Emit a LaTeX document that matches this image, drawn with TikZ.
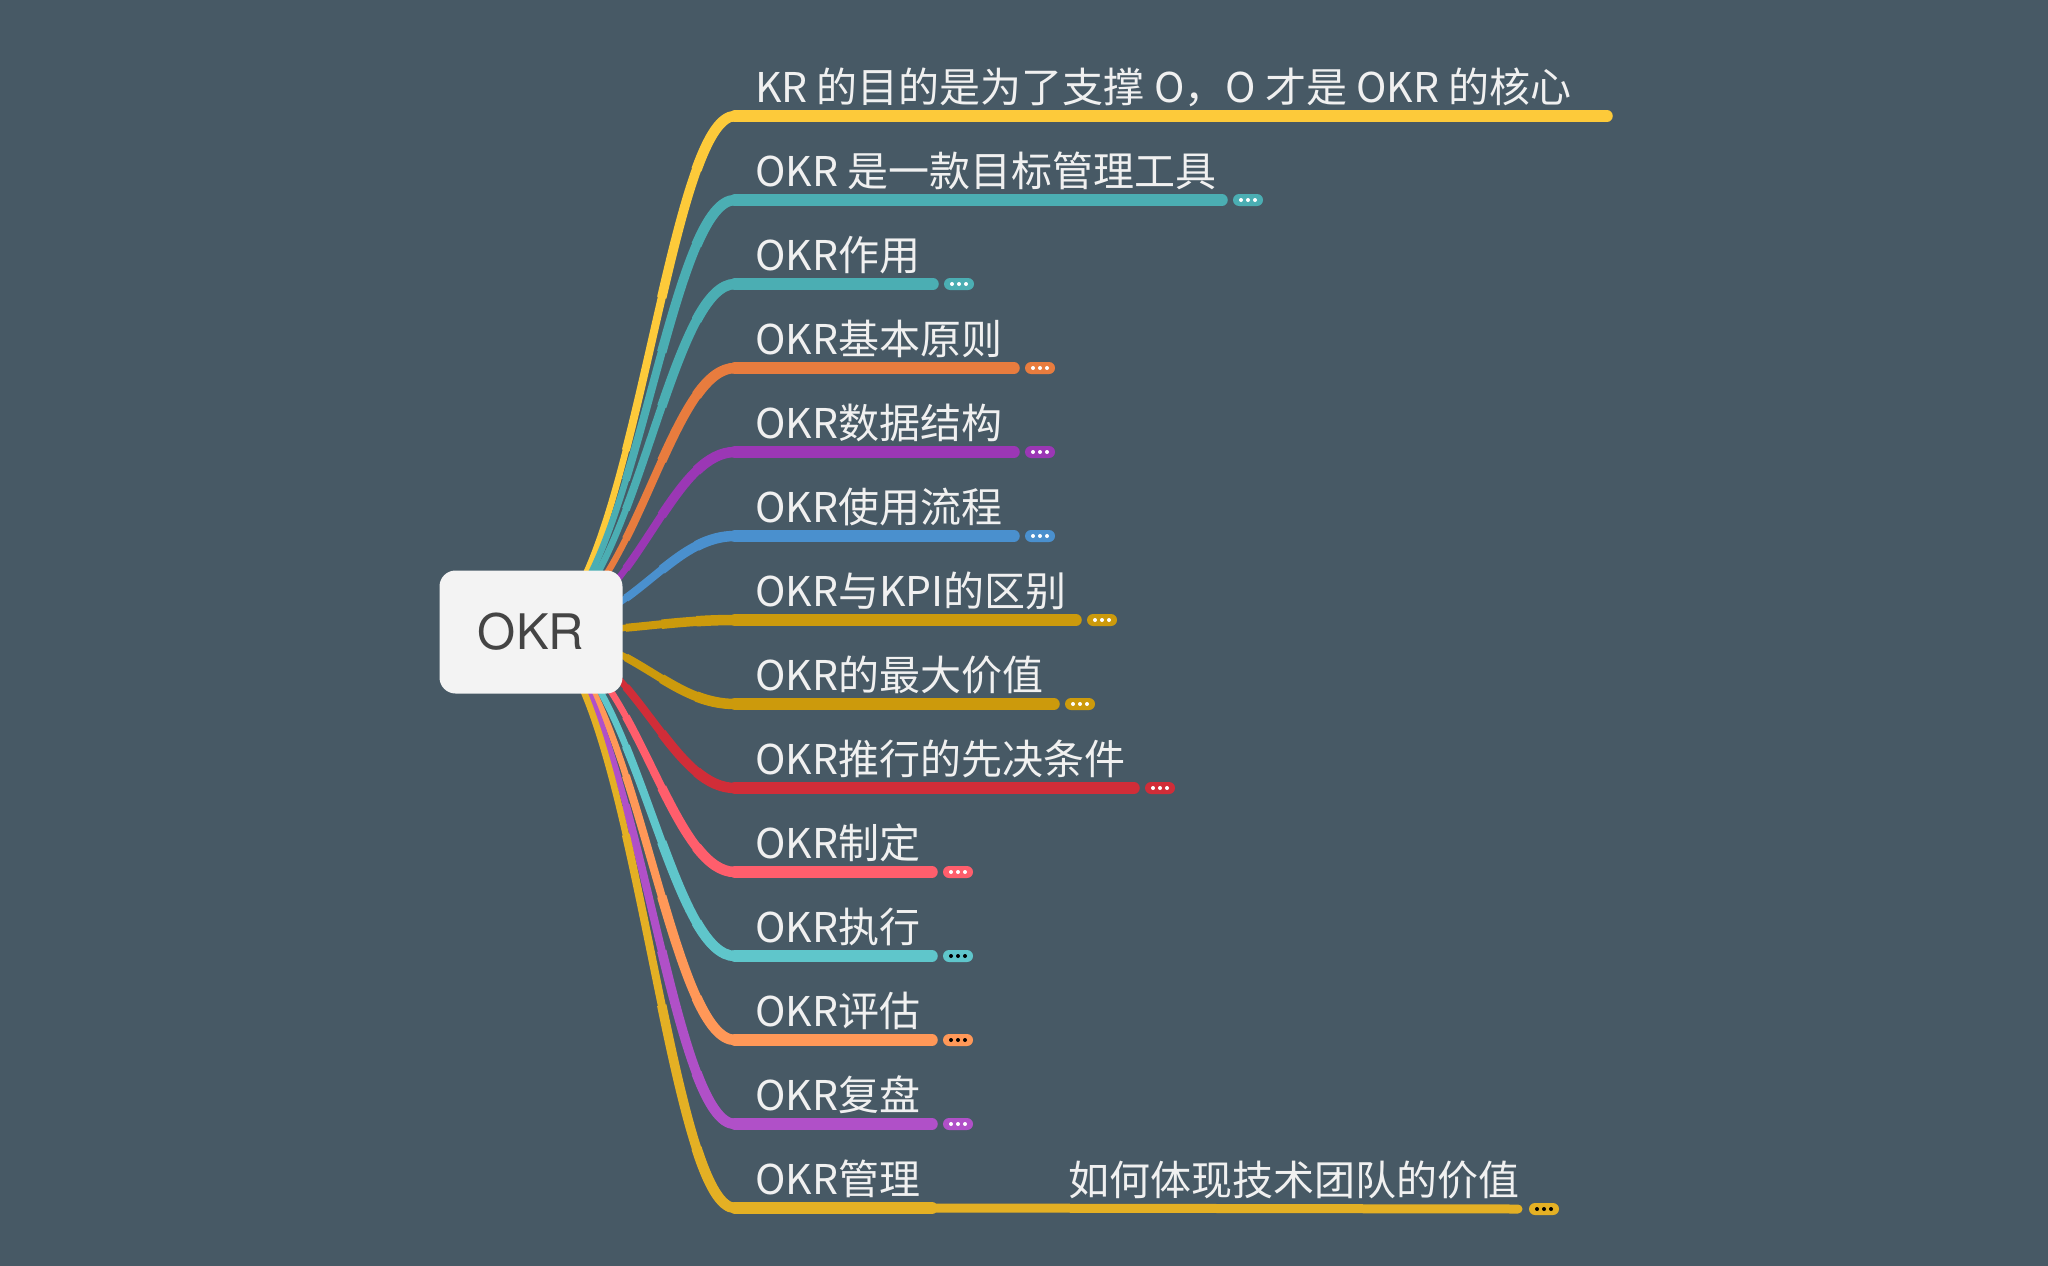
\documentclass[tikz,border=0pt]{standalone}
\usepackage{fontspec}
\setmainfont{Noto Sans CJK SC}
\newfontfamily\rootfont{TeX Gyre Heros}
\usetikzlibrary{calc}

\definecolor{bgcol}{HTML}{475965}
\definecolor{boxcol}{HTML}{F3F3F3}
\definecolor{rootcol}{HTML}{444444}
\definecolor{txtcol}{HTML}{F0F0F0}
\definecolor{cyel}{HTML}{FDCA3A}
\definecolor{cteal}{HTML}{4BAEB3}
\definecolor{corange}{HTML}{E87C3E}
\definecolor{cpurple}{HTML}{9B37B5}
\definecolor{cblue}{HTML}{4A90CE}
\definecolor{cgold}{HTML}{CC9A0C}
\definecolor{cred}{HTML}{D12D38}
\definecolor{cpink}{HTML}{FF5E6C}
\definecolor{cturq}{HTML}{5FC6CB}
\definecolor{clorange}{HTML}{FF9858}
\definecolor{cviolet}{HTML}{B050C8}
\definecolor{cgold2}{HTML}{E4B024}

\tikzset{
  topic/.style={anchor=base west, inner sep=0pt, text=txtcol, font=\fontsize{41}{41}\selectfont},
  pill/.style={rounded corners=6pt, minimum width=30pt, minimum height=12pt, inner sep=0pt},
  rootbox/.style={fill=boxcol, rounded corners=16pt, minimum width=183pt, minimum height=123pt,
    inner sep=0pt, text=rootcol, font=\rootfont\fontsize{49}{49}\selectfont},
}

\begin{document}
\begin{tikzpicture}[x=1pt, y=-1pt, line cap=round]
  \fill[bgcol] (0,0) rectangle (2048,1266);
  \useasboundingbox (0,0) rectangle (2048,1266);
  \coordinate (okrc) at (531,632);

  % branches: tapered curve from the root, then the bar under the text
  \foreach \i/\col/\xe/\dc/\txt in {
      0/cyel/1613/white/{KR 的目的是为了支撑 O，O 才是 OKR 的核心},
      1/cteal/1228/white/{OKR 是一款目标管理工具},
      2/cteal/939/white/{OKR作用},
      3/corange/1020/white/{OKR基本原则},
      4/cpurple/1020/white/{OKR数据结构},
      5/cblue/1020/white/{OKR使用流程},
      6/cgold/1082/white/{OKR与KPI的区别},
      7/cgold/1060/white/{OKR的最大价值},
      8/cred/1140/white/{OKR推行的先决条件},
      9/cpink/938/white/{OKR制定},
      10/cturq/938/black/{OKR执行},
      11/clorange/938/black/{OKR评估},
      12/cviolet/938/white/{OKR复盘},
      13/cgold2/938/black/{OKR管理}} {
    \pgfmathsetmacro{\y}{116+84*\i}
    \coordinate (s\i) at (735,\y);
    \coordinate (e\i) at (\xe-6,\y);
    \coordinate (p1) at ($(okrc)+(100,0)$);
    \coordinate (p2) at (665,\y);
    \foreach \t/\w in {0/5,0.2/6.5,0.4/8,0.6/9.5,0.8/10.5} {
      \coordinate (a) at ($(okrc)!\t!(p1)$);
      \coordinate (b) at ($(p1)!\t!(p2)$);
      \coordinate (c) at ($(p2)!\t!(s\i)$);
      \coordinate (ab) at ($(a)!\t!(b)$);
      \coordinate (bc) at ($(b)!\t!(c)$);
      \coordinate (q) at ($(ab)!\t!(bc)$);
      \draw[\col, line width=\w pt, line cap=butt] (q) .. controls (bc) and (c) .. (s\i);
    }
    \draw[\col, line width=11.5pt] (s\i) -- (e\i);
    \node[topic] (b\i) at (755,\y-14) {\txt};
    \ifnum\i>0 \ifnum\i<13
      \node[pill, fill=\col] (p\i) at (\xe+20,\y) {};
      \foreach \d in {-7,0,7}
        \fill[\dc] ($(p\i.center)+(\d,0)$) circle (2);
    \fi\fi
  }

  % sub topic of OKR管理
  \coordinate (f13) at (1518,1209);
  \draw[cgold2, line width=9pt] (e13) -- (f13);
  \node[topic] (sub) at (1068,1195) {如何体现技术团队的价值};
  \node[pill, fill=cgold2] (psub) at (1544,1209) {};
  \foreach \d in {-7,0,7}
    \fill[black] ($(psub.center)+(\d,0)$) circle (2);

  \node[rootbox] (okr) at (okrc) {OKR};
\end{tikzpicture}
\end{document}
